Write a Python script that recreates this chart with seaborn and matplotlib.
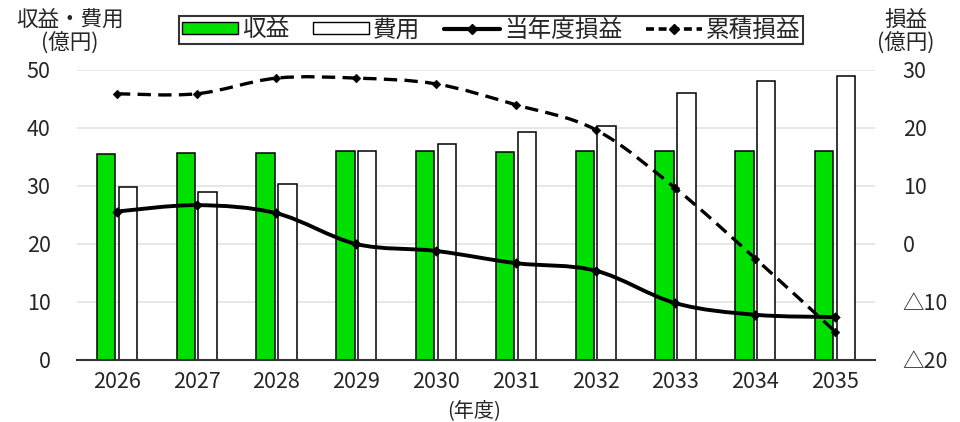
import numpy as np
import pandas as pd
import matplotlib
matplotlib.use("Agg")
import matplotlib.pyplot as plt
import seaborn as sns
from matplotlib.path import Path
from matplotlib.patches import PathPatch, Patch
from matplotlib.lines import Line2D

# ---- data ----
years = ["2026", "2027", "2028", "2029", "2030", "2031", "2032", "2033", "2034", "2035"]
revenue = [35.5, 35.7, 35.7, 36.1, 36.1, 35.9, 36.1, 36.1, 36.1, 36.1]
expense = [29.9, 28.9, 30.3, 36.1, 37.2, 39.3, 40.4, 46.0, 48.1, 48.9]
annual_pl = [5.6, 6.7, 5.3, 0.0, -1.2, -3.3, -4.6, -10.2, -12.2, -12.6]
cumulative_pl = [25.9, 25.9, 28.6, 28.6, 27.6, 24.0, 19.7, 9.6, -2.5, -15.1]

left_ticks = [0, 10, 20, 30, 40, 50]
right_ticks = [-20, -10, 0, 10, 20, 30]
right_labels = ["△20", "△10", "0", "10", "20", "30"]

GREEN = "#00e000"
TXT = "#262626"

sns.set_style("white")
plt.rcParams["font.family"] = ["Noto Sans CJK JP", "DejaVu Sans"]

bars = pd.DataFrame({
    "year": years * 2,
    "value": revenue + expense,
    "kind": ["収益"] * len(years) + ["費用"] * len(years),
})

fig = plt.figure(figsize=(9.6, 4.22), dpi=100)
ax = fig.add_axes([77 / 960, 1 - 360 / 422, (875 - 77) / 960, 290 / 422])

sns.barplot(data=bars, x="year", y="value", hue="kind", order=years,
            hue_order=["収益", "費用"], palette=[GREEN, "white"],
            saturation=1, width=0.55, gap=0.16, edgecolor="black",
            linewidth=1.1, legend=False, ax=ax)

ax.set_ylim(0, 50)
ax.set_xlim(-0.5, len(years) - 0.5)
ax.set_yticks(left_ticks)
ax.yaxis.grid(True, color="#e3e3e3", linewidth=1.2)
ax.set_axisbelow(True)
for s in ["left", "right", "top"]:
    ax.spines[s].set_visible(False)
ax.spines["bottom"].set_color("#333333")
ax.spines["bottom"].set_linewidth(1.5)
ax.tick_params(axis="both", length=0, colors=TXT, labelsize=15.5)
ax.tick_params(axis="y", pad=19)
ax.tick_params(axis="x", pad=8)
ax.set_xlabel("")
ax.set_ylabel("")


def smooth_path(xs, ys):
    # Excel-like smoothed line: Catmull-Rom segments as cubic Bezier curves
    pts = np.column_stack([xs, ys]).astype(float)
    n = len(pts)
    verts = [pts[0]]
    codes = [Path.MOVETO]
    for i in range(n - 1):
        p0 = pts[max(i - 1, 0)]
        p1 = pts[i]
        p2 = pts[i + 1]
        p3 = pts[min(i + 2, n - 1)]
        c1 = p1 + (p2 - p0) / 6.0
        c2 = p2 - (p3 - p1) / 6.0
        verts += [c1, c2, p2]
        codes += [Path.CURVE4] * 3
    return Path(verts, codes)


ax2 = ax.twinx()
xpos = np.arange(len(years))
ax2.add_patch(PathPatch(smooth_path(xpos, annual_pl), fill=False,
                        edgecolor="black", linewidth=2.8, capstyle="round"))
ax2.add_patch(PathPatch(smooth_path(xpos, cumulative_pl), fill=False,
                        edgecolor="black", linewidth=2.4, linestyle=(0, (4, 2.2))))
sns.scatterplot(x=xpos, y=annual_pl, marker="D", s=24, color="black",
                edgecolor="black", ax=ax2, zorder=5)
sns.scatterplot(x=xpos, y=cumulative_pl, marker="D", s=20, color="black",
                edgecolor="black", ax=ax2, zorder=5)

ax2.set_ylim(-20, 30)
ax2.set_xlim(-0.5, len(years) - 0.5)
ax2.set_yticks(right_ticks)
ax2.set_yticklabels(right_labels)
for s in ["left", "right", "top", "bottom"]:
    ax2.spines[s].set_visible(False)
ax2.tick_params(axis="y", length=0, colors=TXT, pad=20, labelsize=15.5)

# axis titles
fig.text(70 / 960, 1 - 20 / 422, "収益・費用", ha="center", va="center", fontsize=15.5, color=TXT)
fig.text(70 / 960, 1 - 44 / 422, "(億円)", ha="center", va="center", fontsize=15.5, color=TXT)
fig.text(906 / 960, 1 - 20 / 422, "損益", ha="center", va="center", fontsize=15.5, color=TXT)
fig.text(906 / 960, 1 - 44 / 422, "(億円)", ha="center", va="center", fontsize=15.5, color=TXT)
fig.text(474 / 960, 1 - 411 / 422, "(年度)", ha="center", va="center", fontsize=14.5, color=TXT)

handles = [
    Patch(facecolor=GREEN, edgecolor="black", linewidth=1.0),
    Patch(facecolor="white", edgecolor="black", linewidth=1.0),
    Line2D([], [], color="black", linewidth=3.0, marker="D", markersize=5),
    Line2D([], [], color="black", linewidth=2.6, linestyle=(0, (2.2, 1.3)),
           marker="D", markersize=5),
]
labels = ["収益", "費用", "当年度損益", "累積損益"]
leg = fig.legend(handles, labels, loc="center", bbox_to_anchor=(491 / 960, 1 - 30 / 422),
                 ncol=4, fontsize=17, frameon=True, fancybox=False, edgecolor="black",
                 handlelength=2.4, handleheight=0.4, handletextpad=0.15,
                 columnspacing=1.0, borderpad=0.12, borderaxespad=0)
leg.get_frame().set_linewidth(1.5)
for t in leg.get_texts():
    t.set_color(TXT)

fig.savefig("out.png", dpi=100)
